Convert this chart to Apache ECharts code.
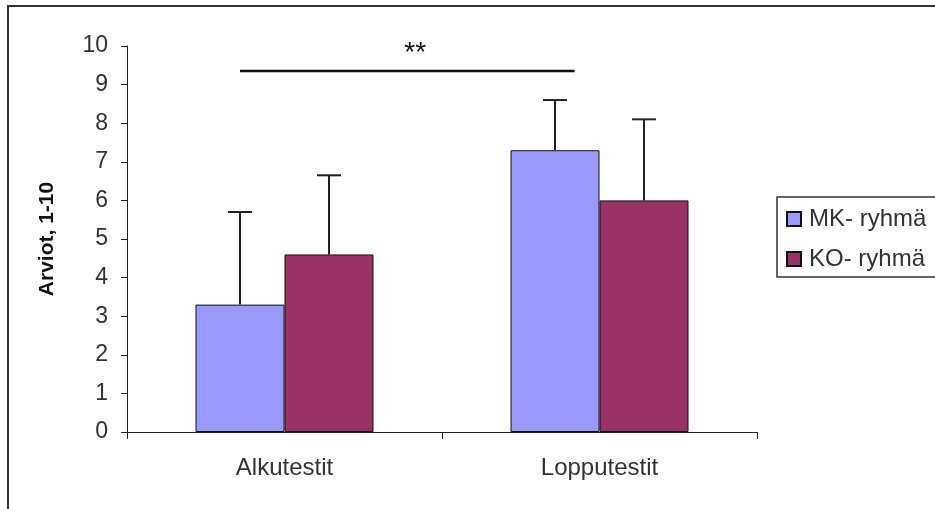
<!DOCTYPE html>
<html><head><meta charset="utf-8">
<script src="https://cdn.jsdelivr.net/npm/echarts@6/dist/echarts.min.js"></script>
<style>html,body{margin:0;padding:0;background:#fff}#c{width:935px;height:509px}</style>
</head><body><div id="c"></div>
<script>
const categories = ['Alkutestit', 'Lopputestit'];
const seriesNames = ['MK- ryhmä', 'KO- ryhmä'];
const mkValues = [3.3, 7.3];
const koValues = [4.6, 6.0];
const mkErrTop = [5.7, 8.6];
const koErrTop = [6.65, 8.1];
const yTicks = [0,1,2,3,4,5,6,7,8,9,10];
const sigLevel = 9.35;
const sigText = '**';

const BW = 89;
const font = 'Liberation Sans, Arial, sans-serif';
const chart = echarts.init(document.getElementById('c'));

function errSeries(name, tops, vals, dir) {
  return {
    type: 'custom', name: name + ' err', silent: true, z: 5,
    data: tops.map((t, i) => [i, vals[i], t]),
    renderItem: function (params, api) {
      const base = api.coord([api.value(0), api.value(1)]);
      const top = api.coord([api.value(0), api.value(2)]);
      const x = base[0] + dir * BW / 2;
      return { type: 'group', children: [
        { type: 'line', shape: { x1: x, y1: base[1], x2: x, y2: top[1] }, style: { stroke: '#222', lineWidth: 2 } },
        { type: 'line', shape: { x1: x - 12, y1: top[1], x2: x + 12, y2: top[1] }, style: { stroke: '#222', lineWidth: 2 } }
      ]};
    }
  };
}

chart.setOption({
  animation: false,
  textStyle: { fontFamily: font },
  grid: { left: 127, top: 46, width: 630, height: 386 },
  legend: {
    orient: 'vertical', left: 777, top: 197,
    data: seriesNames.map(n => ({ name: n, icon: 'rect' })),
    itemWidth: 14, itemHeight: 14, itemGap: 16,
    padding: [10, 60, 6, 9],
    borderColor: '#333', borderWidth: 1.5,
    textStyle: { fontSize: 24, lineHeight: 24, color: '#333', fontFamily: font, padding: [0, 0, 0, 3] }
  },
  xAxis: {
    type: 'category', data: categories,
    axisLine: { lineStyle: { color: '#222', width: 1 } },
    axisTick: { show: true, length: 7, lineStyle: { color: '#222' } },
    axisLabel: { fontSize: 24, color: '#333', margin: 24, fontFamily: font },
    splitLine: { show: false }
  },
  yAxis: {
    type: 'value', min: 0, max: 10, interval: 1,
    name: 'Arviot, 1-10', nameLocation: 'middle', nameGap: 69, nameRotate: 90,
    nameTextStyle: { fontSize: 21, fontWeight: 'bold', color: '#111', fontFamily: font },
    axisLine: { show: true, lineStyle: { color: '#222', width: 1 } },
    axisTick: { show: true, length: 6, lineStyle: { color: '#222' } },
    axisLabel: { fontSize: 23, color: '#333', margin: 19, fontFamily: font,
      formatter: v => yTicks.includes(v) ? String(v) : '' },
    splitLine: { show: false }
  },
  series: [
    { type: 'bar', name: seriesNames[0], data: mkValues, barWidth: BW, barGap: '0%',
      itemStyle: { color: '#9999FF', borderColor: '#111', borderWidth: 1 } },
    { type: 'bar', name: seriesNames[1], data: koValues, barWidth: BW, barGap: '0%',
      itemStyle: { color: '#993366', borderColor: '#111', borderWidth: 1 } },
    errSeries(seriesNames[0], mkErrTop, mkValues, -1),
    errSeries(seriesNames[1], koErrTop, koValues, 1)
  ]
});

const c0 = chart.convertToPixel({ xAxisIndex: 0 }, categories[0]);
const c1 = chart.convertToPixel({ xAxisIndex: 0 }, categories[1]);
const ys = chart.convertToPixel({ yAxisIndex: 0 }, sigLevel);
const x1 = c0 - BW / 2, x2 = c1 - 25;
chart.setOption({
  graphic: [
    { type: 'rect', shape: { x: 8, y: 6, width: 1000, height: 600 }, style: { fill: 'none', stroke: '#333', lineWidth: 2 }, z: 100 },
    { type: 'line', shape: { x1: x1, y1: ys, x2: x2, y2: ys }, style: { stroke: '#111', lineWidth: 2.5 } },
    { type: 'text', x: (x1 + x2) / 2 + 8, y: ys - 4, style: { text: sigText, font: '28px ' + font, fill: '#111', align: 'center', verticalAlign: 'bottom' } }
  ]
});
</script></body></html>
